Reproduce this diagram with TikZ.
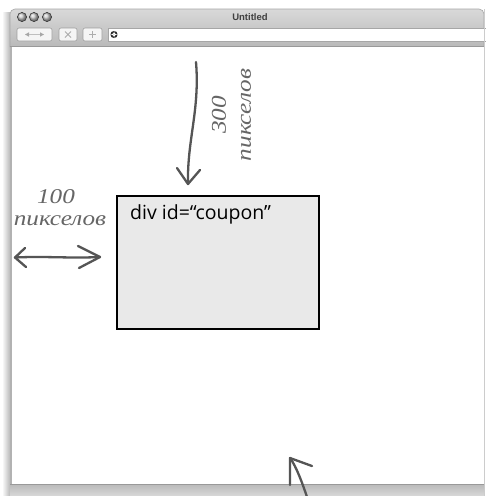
\documentclass[tikz,border=0pt]{standalone}
\usepackage{fontspec}
\setmainfont{Open Sans}
\newfontfamily\handfont[FakeStretch=1.2]{Liberation Serif}
\newfontfamily\uifont{Liberation Sans}
\definecolor{boxfill}{HTML}{E9E9E9}
\definecolor{ink}{HTML}{555555}
\definecolor{handtext}{HTML}{666666}
\tikzset{
  pen/.style={draw=ink, line width=2.3pt, line cap=round, line join=round},
  hand/.style={font=\handfont\itshape\fontsize{21}{21}\selectfont, text=handtext, inner sep=0pt},
  uibtn/.style={draw=gray!75, fill=gray!8, rounded corners=2pt, line width=0.6pt},
}
\begin{document}
\begin{tikzpicture}[x=1pt,y=-1pt]
\useasboundingbox (0,0) rectangle (486,496);
\fill[white] (0,0) rectangle (486,496);
% shadow
\shade[left color=white, right color=gray!55] (2,12) rectangle (10,496);
% title and toolbar
\shade[top color=gray!30, bottom color=gray!55] (10,47) [rounded corners=5pt] -- (10,9) -- (484,9) [sharp corners] -- (484,47) -- cycle;
\draw[gray!70, line width=0.6pt] (10,47) [rounded corners=5pt] -- (10,9) -- (484,9) [sharp corners] -- (484,47);
% traffic lights
\foreach \cx in {22,34,47}{
  \shade[ball color=gray!45] (\cx,17) circle (4.6pt);
  \draw[gray!40!black, line width=0.5pt] (\cx,17) circle (4.6pt);
}
\node[font=\uifont\bfseries\fontsize{9.5}{9.5}\selectfont, text=black!75] (title) at (250,17.5) {Untitled};
% buttons
\draw[uibtn] (17,28) rectangle (52,41);
\fill[gray!70] (25,34.5) -- (29,32.3) -- (29,36.7) -- cycle;
\fill[gray!70] (44,34.5) -- (40,32.3) -- (40,36.7) -- cycle;
\draw[gray!50, line width=0.4pt] (29,34.5) -- (40,34.5);
\draw[uibtn] (59,28) rectangle (77,41);
\draw[gray!65, line width=0.9pt] (65,31.5) -- (71,37.5) (71,31.5) -- (65,37.5);
\draw[uibtn] (83,28) rectangle (102,41);
\draw[gray!65, line width=0.9pt] (92.5,31) -- (92.5,38) (89,34.5) -- (96,34.5);
\draw[fill=white, draw=gray!70, line width=0.6pt] (108,28) rectangle (487,41);
\fill[gray!30!black] (114,34.5) circle (3.6pt);
\draw[white, line width=0.5pt] (114,34.5) circle (1.8pt) (110.5,34.5) -- (117.5,34.5) (114,31) -- (114,38);
% content
\fill[white] (12,47) rectangle (484,484);
\draw[gray!80, line width=1pt] (10,46.5) -- (484,46.5);
\fill[gray!60] (10,47) rectangle (12,484);
\draw[gray!40, line width=0.6pt] (484,9) -- (484,496);
% bottom bar
\shade[top color=gray!55, bottom color=gray!30] (10,484) rectangle (484,496);
\draw[gray!80, line width=0.8pt] (10,484) -- (484,484);
% box
\node[draw=black, line width=2.3pt, fill=boxfill, minimum width=202pt, minimum height=133pt, inner sep=0pt, anchor=north west] (coupon) at (116,195) {};
\node[anchor=base west, font=\fontsize{19.5}{19.5}\selectfont, inner sep=0pt] (label) at (130,219) {div id=“coupon”};
% vertical arrow
\coordinate (vtop) at (196,62);
\coordinate (vtip) at (188,184);
\draw[pen] (vtop) .. controls (200,110) and (187,140) .. (vtip);
\draw[pen] (177,168) -- (vtip) -- (200,170);
\node[hand, rotate=90] (t300) at (219,115) {300};
\node[hand, rotate=90] (tpx1) at (246,115) {пикселов};
% horizontal arrow
\coordinate (hl) at (15,257.5);
\coordinate (hr) at (100,257);
\draw[pen] (hl) .. controls (45,256) and (70,258.5) .. (hr);
\draw[pen] (25,248) -- (hl) -- (26,267);
\draw[pen] (78,246) -- (hr) -- (79,268);
\node[hand] (t100) at (56,197) {100};
\node[hand] (tpx2) at (60,221) {пикселов};
% bottom arrow
\coordinate (btip) at (290,458);
\coordinate (bend) at (307,497);
\draw[pen] (bend) .. controls (302,482) and (296,466) .. (btip);
\draw[pen] (290,485) -- (btip) -- (312,466);
\end{tikzpicture}
\end{document}
